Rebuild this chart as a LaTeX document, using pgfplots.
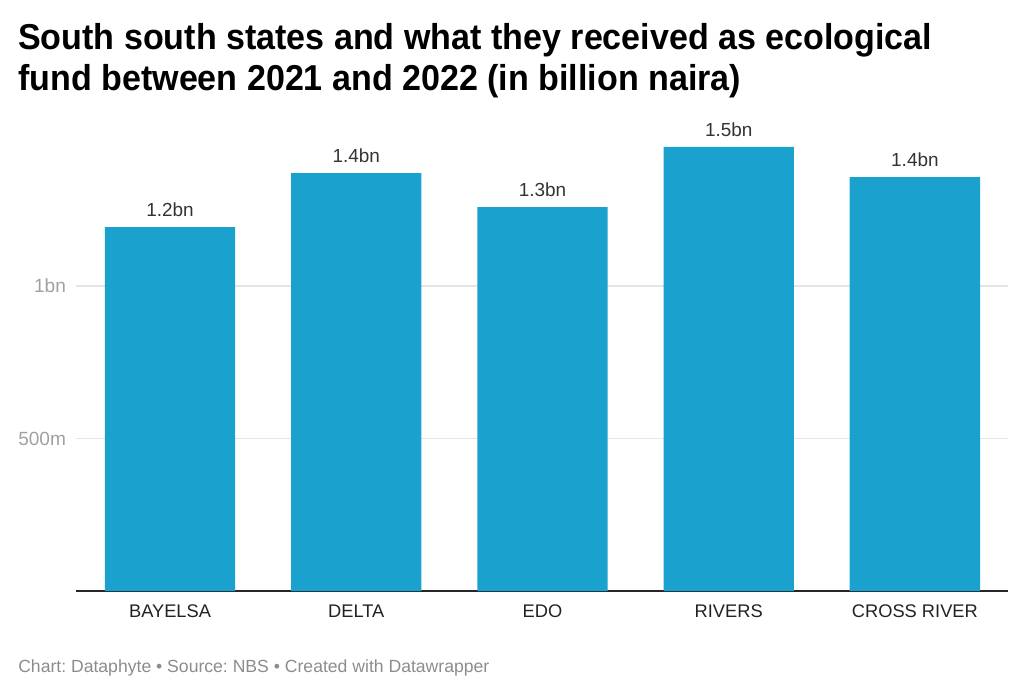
\documentclass[border=0pt]{standalone}
\usepackage{pgfplots}
\pgfplotsset{compat=1.18}
\usepackage{fontspec}
\setmainfont{Liberation Sans}
\frenchspacing
\definecolor{barc}{HTML}{1AA1CE}
\definecolor{gridc}{HTML}{E5E5E5}
\definecolor{tickc}{HTML}{A0A0A0}
\definecolor{labc}{HTML}{222222}
\definecolor{valc}{HTML}{333333}
\definecolor{footc}{HTML}{8C8C8C}
\begin{document}
\begin{tikzpicture}[x=0.75pt,y=0.75pt]
\path[use as bounding box] (0,0) rectangle (1024,694);
\node[anchor=base west, inner sep=0, font=\bfseries\fontsize{27}{32}\selectfont] at (18,644) {\scalebox{0.946}[1]{South south states and what they received as ecological}};
\node[anchor=base west, inner sep=0, font=\bfseries\fontsize{27}{32}\selectfont] at (18,603) {\scalebox{0.946}[1]{fund between 2021 and 2022 (in billion naira)}};
\begin{axis}[
  at={(76*0.75pt,103*0.75pt)}, anchor=south west,
  width=699pt, height=366pt, scale only axis,
  xmin=-0.505, xmax=4.5, ymin=0, ymax=1.6,
  axis lines*=left,
  y axis line style={draw=none},
  x axis line style={draw=black!85, line width=1pt, -},
  major tick length=0pt,
  ytick={0.5,1}, yticklabels={500m,1bn},
  ymajorgrids, grid style={gridc, line width=0.9pt},
  yticklabel style={font=\fontsize{14.3}{16}\selectfont, text=tickc, anchor=east, xshift=-4pt},
  xtick={0,1,2,3,4},
  xticklabels={BAYELSA,DELTA,EDO,RIVERS,CROSS RIVER},
  xticklabel style={font=\fontsize{13.7}{15}\selectfont, text=labc, anchor=north, yshift=-7pt},
  /pgf/number format/assume math mode=true,
  ybar, bar width=0.7,
  nodes near coords={\pgfmathprintnumber[fixed,precision=1]{\pgfplotspointmeta}bn},
  every node near coord/.append style={font=\fontsize{14.2}{16}\selectfont, text=valc, anchor=south, yshift=4pt},
]
\addplot[fill=barc, draw=none] coordinates {(0,1.193) (1,1.370) (2,1.259) (3,1.456) (4,1.357)};
\end{axis}
\node[anchor=base west, inner sep=0, font=\fontsize{13.2}{15}\selectfont, text=footc] at (18,22) {Chart: Dataphyte • Source: NBS • Created with Datawrapper};
\end{tikzpicture}
\end{document}
